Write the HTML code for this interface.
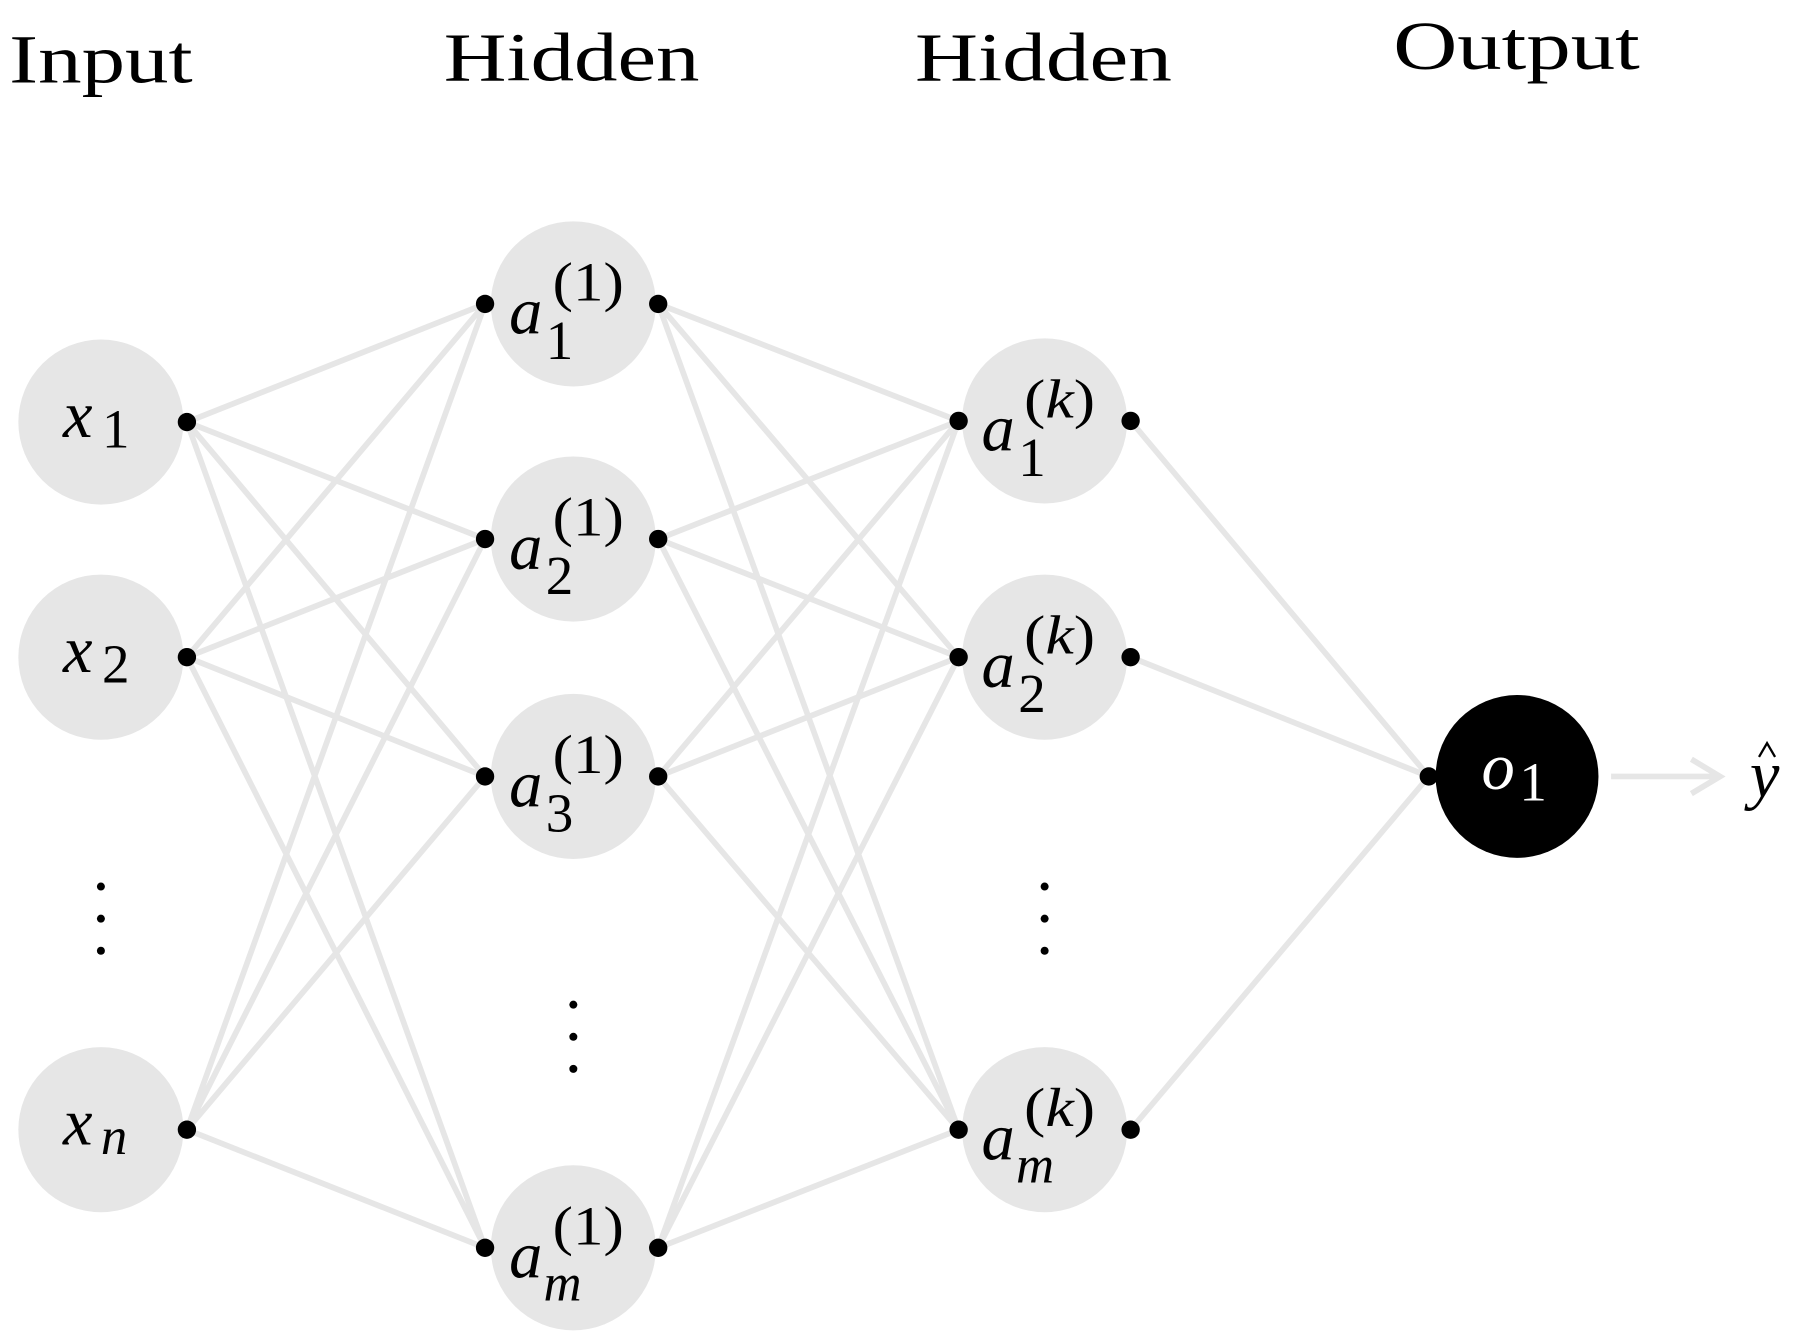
<!DOCTYPE html>
<html><head><meta charset="utf-8"><style>html,body{margin:0;padding:0;background:#fff}svg{display:block}</style></head><body>
<svg width="1798" height="1343" viewBox="0 0 1568 1171" preserveAspectRatio="none" xmlns="http://www.w3.org/2000/svg" font-family="'Liberation Serif', serif">
<g fill="#e6e6e6">
<circle cx="88" cy="368" r="72"/><circle cx="88" cy="573" r="72"/><circle cx="88" cy="985" r="72"/>
<circle cx="500" cy="265" r="72"/><circle cx="500" cy="470" r="72"/><circle cx="500" cy="677" r="72"/><circle cx="500" cy="1088" r="72"/>
<circle cx="911" cy="367" r="72"/><circle cx="911" cy="573" r="72"/><circle cx="911" cy="985" r="72"/>
</g>
<circle cx="1323" cy="677" r="71" fill="#000"/>
<g stroke="#e6e6e6" stroke-width="5" fill="none">
<path d="M163 368L423 265M163 368L423 470M163 368L423 677M163 368L423 1088
M163 573L423 265M163 573L423 470M163 573L423 677M163 573L423 1088
M163 985L423 265M163 985L423 470M163 985L423 677M163 985L423 1088
M574 265L836 367M574 265L836 573M574 265L836 985
M574 470L836 367M574 470L836 573M574 470L836 985
M574 677L836 367M574 677L836 573M574 677L836 985
M574 1088L836 367M574 1088L836 573M574 1088L836 985
M986 367L1246 677M986 573L1246 677M986 985L1246 677
M1405 677L1500 677M1475 662L1500 677L1475 692"/>
</g>
<g fill="#000">
<circle cx="163" cy="368" r="8"/><circle cx="163" cy="573" r="8"/><circle cx="163" cy="985" r="8"/>
<circle cx="423" cy="265" r="8"/><circle cx="423" cy="470" r="8"/><circle cx="423" cy="677" r="8"/><circle cx="423" cy="1088" r="8"/>
<circle cx="574" cy="265" r="8"/><circle cx="574" cy="470" r="8"/><circle cx="574" cy="677" r="8"/><circle cx="574" cy="1088" r="8"/>
<circle cx="836" cy="367" r="8"/><circle cx="836" cy="573" r="8"/><circle cx="836" cy="985" r="8"/>
<circle cx="986" cy="367" r="8"/><circle cx="986" cy="573" r="8"/><circle cx="986" cy="985" r="8"/>
<circle cx="1246" cy="677" r="8"/>
<circle cx="88" cy="773" r="3.5"/><circle cx="88" cy="801" r="3.5"/><circle cx="88" cy="829" r="3.5"/>
<circle cx="500" cy="876" r="3.5"/><circle cx="500" cy="904" r="3.5"/><circle cx="500" cy="932" r="3.5"/>
<circle cx="911" cy="773" r="3.5"/><circle cx="911" cy="801" r="3.5"/><circle cx="911" cy="829" r="3.5"/>
</g>
<g font-size="60" fill="#000">
<text x="8" y="72" textLength="160" lengthAdjust="spacingAndGlyphs">Input</text>
<text x="387" y="70" textLength="223" lengthAdjust="spacingAndGlyphs">Hidden</text>
<text x="798" y="70" textLength="224" lengthAdjust="spacingAndGlyphs">Hidden</text>
<text x="1215" y="60" textLength="215" lengthAdjust="spacingAndGlyphs">Output</text>
</g>
<g fill="#000">
<text x="55" y="381" font-size="58" font-style="italic">x</text><text x="89" y="390" font-size="48">1</text>
<text x="55" y="586" font-size="58" font-style="italic">x</text><text x="89" y="595" font-size="48">2</text>
<text x="55" y="998" font-size="58" font-style="italic">x</text><text x="88" y="1006" font-size="46" font-style="italic">n</text>

<text x="444" y="291" font-size="58" font-style="italic">a</text><text x="476" y="313" font-size="48">1</text><text x="482" y="262" font-size="48" textLength="62" lengthAdjust="spacingAndGlyphs">(1)</text>
<text x="444" y="496" font-size="58" font-style="italic">a</text><text x="476" y="518" font-size="48">2</text><text x="482" y="467" font-size="48" textLength="62" lengthAdjust="spacingAndGlyphs">(1)</text>
<text x="444" y="703" font-size="58" font-style="italic">a</text><text x="476" y="725" font-size="48">3</text><text x="482" y="674" font-size="48" textLength="62" lengthAdjust="spacingAndGlyphs">(1)</text>
<text x="444" y="1114" font-size="58" font-style="italic">a</text><text x="474" y="1134" font-size="46" font-style="italic">m</text><text x="482" y="1085" font-size="48" textLength="62" lengthAdjust="spacingAndGlyphs">(1)</text>

<text x="856" y="393" font-size="58" font-style="italic">a</text><text x="888" y="415" font-size="48">1</text><text x="893" y="364" font-size="48" textLength="62" lengthAdjust="spacingAndGlyphs">(<tspan font-style="italic">k</tspan>)</text>
<text x="856" y="599" font-size="58" font-style="italic">a</text><text x="888" y="621" font-size="48">2</text><text x="893" y="570" font-size="48" textLength="62" lengthAdjust="spacingAndGlyphs">(<tspan font-style="italic">k</tspan>)</text>
<text x="856" y="1011" font-size="58" font-style="italic">a</text><text x="886" y="1031" font-size="46" font-style="italic">m</text><text x="893" y="982" font-size="48" textLength="62" lengthAdjust="spacingAndGlyphs">(<tspan font-style="italic">k</tspan>)</text>

<text x="1292" y="688" font-size="58" font-style="italic" fill="#fff">o</text><text x="1325" y="698" font-size="48" fill="#fff">1</text>
<text x="1526" y="695" font-size="58" font-style="italic">y</text>
</g>
<path d="M1534 660L1541 648L1548 660" stroke="#000" stroke-width="2" fill="none"/>
</svg>
</body></html>
